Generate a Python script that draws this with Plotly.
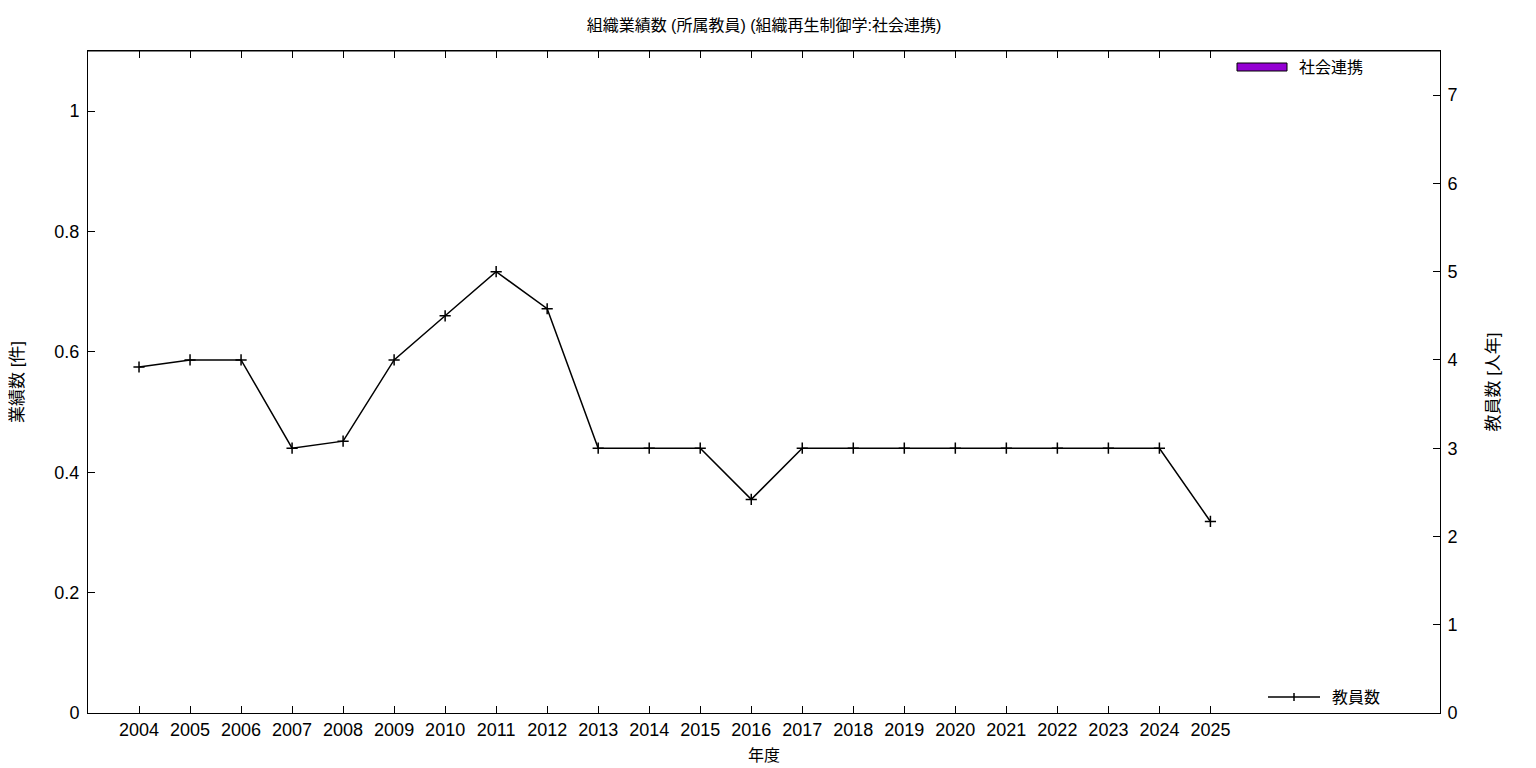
import plotly.graph_objects as go

years = list(range(2004, 2026))
staff = [3.92, 4.0, 4.0, 3.0, 3.08, 4.0, 4.5, 5.0, 4.58, 3.0, 3.0, 3.0, 2.42, 3.0, 3.0, 3.0, 3.0, 3.0, 3.0, 3.0, 3.0, 2.17]
social = [0] * len(years)

title_text = "組織業績数 (所属教員) (組織再生制御学:社会連携)"
bar_name = "社会連携"
line_name = "教員数"

FONT = "Liberation Sans, Noto Sans CJK JP, sans-serif"
W, H = 1536, 768
OFF = 8  # default page body margin
# plot area in page pixels
PL, PR, PT, PB = 88, 1440, 51, 713
PW, PH = PR - PL, PB - PT

def px(x):
    return (x - PL) / PW

def py(y):
    return (PB - y) / PH

fig = go.Figure()
fig.add_trace(go.Bar(x=years, y=social, marker=dict(color="#9400d3", line=dict(width=0)),
                     name=bar_name, showlegend=False, yaxis="y"))
fig.add_trace(go.Scatter(x=years, y=staff, yaxis="y2", mode="lines+markers", name=line_name,
                         line=dict(color="black", width=1.5),
                         marker=dict(symbol="cross-thin", size=8, line=dict(color="black", width=1.5)),
                         showlegend=False))

axis_common = dict(showgrid=False, zeroline=False, showline=True, linecolor="black", linewidth=1,
                   ticks="inside", ticklen=7, tickcolor="black", tickwidth=1,
                   tickfont=dict(family=FONT, size=18, color="black"))

fig.update_layout(
    width=W, height=H,
    margin=dict(l=PL - OFF, r=W + OFF - PR, t=PT - OFF, b=H + OFF - PB, autoexpand=False),
    paper_bgcolor="white", plot_bgcolor="white",
    title=dict(text=title_text, xref="paper", x=0.5, xanchor="center", y=1 - (25 - OFF) / H, yanchor="middle",
               font=dict(family=FONT, size=16, color="black")),
    xaxis=dict(range=[2003, 2029.5], tickvals=years, ticktext=[str(y) for y in years],
               mirror="ticks",
               title=dict(text="年度", font=dict(family=FONT, size=16, color="black"), standoff=11),
               **axis_common),
    yaxis=dict(range=[0, 1.1], dtick=0.2, tick0=0, ticklabelstandoff=4,
               title=dict(text="業績数 [件]", font=dict(family=FONT, size=17, color="black"), standoff=32),
               **axis_common),
    yaxis2=dict(range=[0, 7.5], dtick=1, tick0=0, overlaying="y", side="right", ticklabelstandoff=3,
                title=dict(text="教員数 [人年]", font=dict(family=FONT, size=17, color="black"), standoff=30),
                **axis_common),
    showlegend=False,
    bargap=0.5,
)

# top border line
fig.add_shape(type="line", xref="paper", yref="paper", x0=0, x1=1, y0=1, y1=1,
              line=dict(color="black", width=1))

# manual legend: bar
fig.add_shape(type="rect", xref="paper", yref="paper",
              x0=px(1237), x1=px(1287), y0=py(71), y1=py(63),
              fillcolor="#9400d3", line=dict(color="black", width=1))
fig.add_annotation(xref="paper", yref="paper", x=px(1297), y=py(67), text=bar_name,
                   showarrow=False, xanchor="left", yanchor="middle",
                   font=dict(family=FONT, size=16, color="black"))
# manual legend: line
fig.add_shape(type="line", xref="paper", yref="paper",
              x0=px(1268), x1=px(1320), y0=py(697), y1=py(697),
              line=dict(color="black", width=1.5))
fig.add_shape(type="line", xref="paper", yref="paper",
              x0=px(1294), x1=px(1294), y0=py(693), y1=py(701),
              line=dict(color="black", width=1.5))
fig.add_annotation(xref="paper", yref="paper", x=px(1330), y=py(697), text=line_name,
                   showarrow=False, xanchor="left", yanchor="middle",
                   font=dict(family=FONT, size=16, color="black"))

fig.write_html("out.html")
